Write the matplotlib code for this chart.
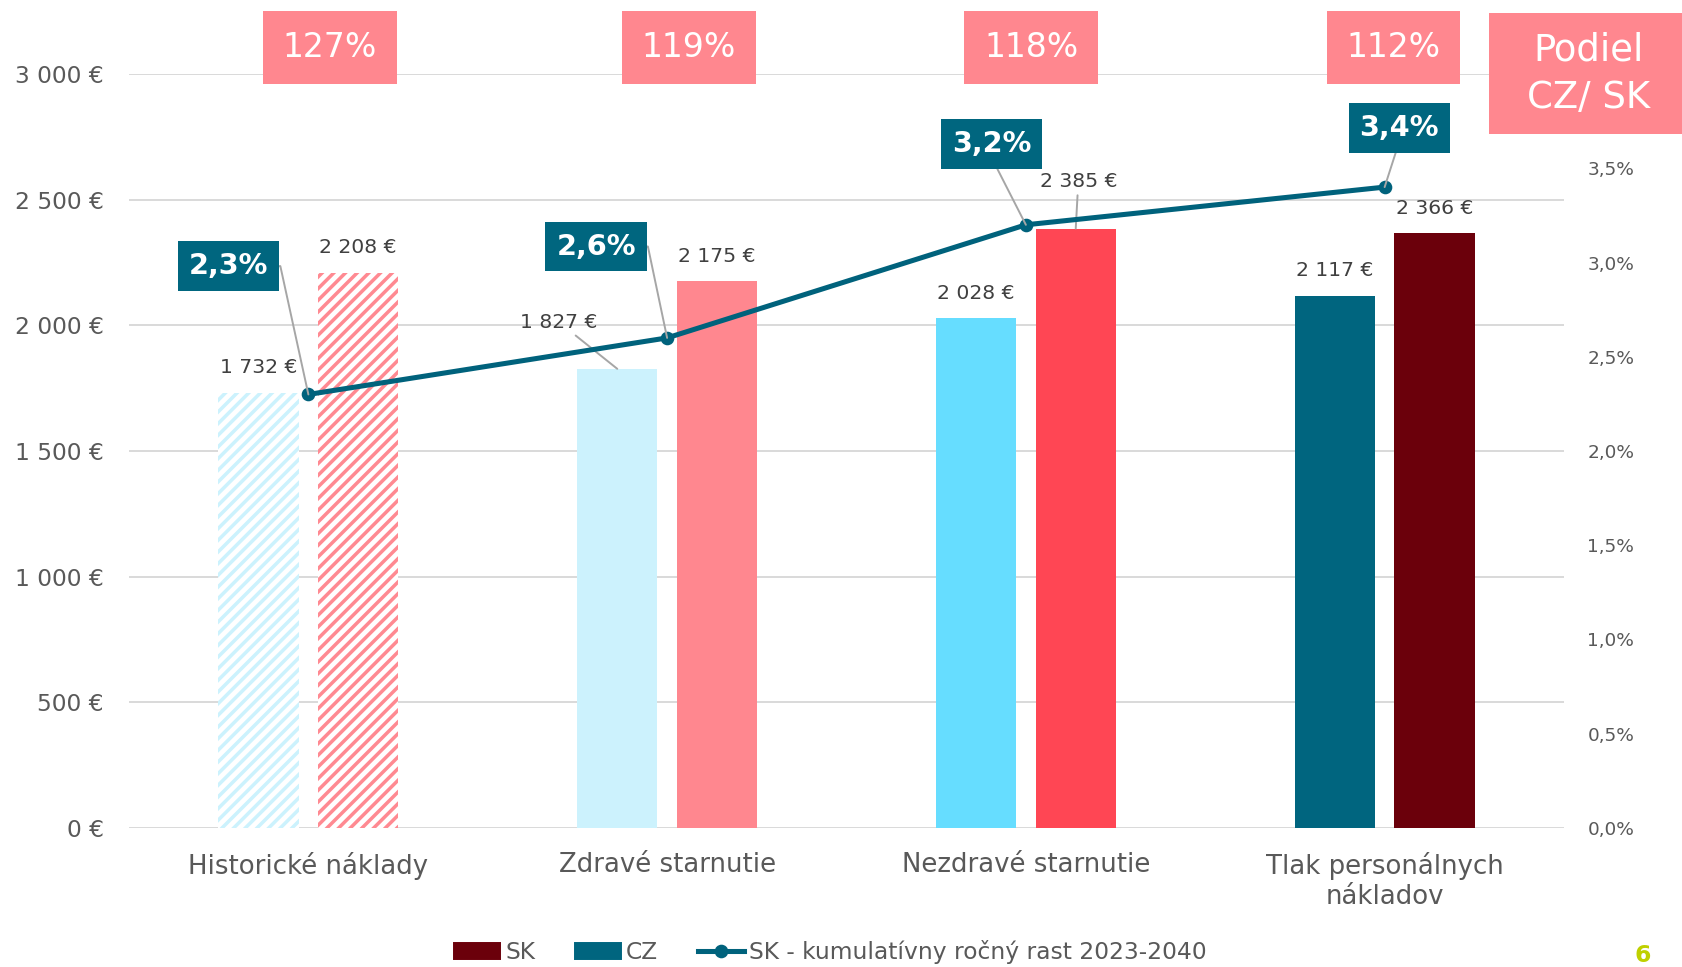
import numpy as np
import matplotlib.pyplot as plt
from matplotlib.lines import Line2D
from matplotlib.patches import Patch, Rectangle

plt.rcParams['font.family'] = ['DejaVu Sans']
plt.rcParams['hatch.linewidth'] = 1.8

categories = ["Historické náklady", "Zdravé starnutie", "Nezdravé starnutie", "Tlak personálnych\nnákladov"]
cz_costs = [1732, 1827, 2028, 2117]
sk_costs = [2208, 2175, 2385, 2366]
sk_growth = [2.3, 2.6, 3.2, 3.4]
cz_colors = ['#CCF2FD', '#CCF2FD', '#66DDFF', '#00657F']
sk_colors = ['#FF8A92', '#FF878F', '#FF4654', '#6B000B']
cost_ticks = [0, 500, 1000, 1500, 2000, 2500, 3000]
growth_ticks = [0.0, 0.5, 1.0, 1.5, 2.0, 2.5, 3.0, 3.5]

teal = '#00667F'
line_teal = '#00627C'
pink = '#FF878F'
grey_text = '#595959'
dark_text = '#404040'
leader = '#A6A6A6'


def eur(v):
    return f"{v:,}".replace(",", " ") + " €"


def pct(v):
    return f"{v:.1f}%".replace(".", ",")


dpi = 140
fig = plt.figure(figsize=(1682 / dpi, 967 / dpi), dpi=dpi)
ax = fig.add_axes([129 / 1682, 1 - 828 / 967, (1564 - 129) / 1682, (828 - 74) / 967])
ax2 = ax.twinx()

x = np.arange(len(categories))
w = 0.224
off = 0.139

cz_bars = ax.bar(x - off, cz_costs, w, color=cz_colors, linewidth=0, zorder=2)
sk_bars = ax.bar(x + off, sk_costs, w, color=sk_colors, linewidth=0, zorder=2)
# historical values are hatched
for b, c in [(cz_bars[0], cz_colors[0]), (sk_bars[0], sk_colors[0])]:
    b.set_facecolor('white')
    b.set_edgecolor(c)
    b.set_linewidth(0)
    b.set_hatch('////')

ax.set_xlim(-0.5, len(categories) - 0.5)
ax.set_ylim(0, 3000)
ax.set_yticks(cost_ticks)
ax.set_yticklabels([eur(v) for v in cost_ticks])
ax.set_xticks(x)
ax.set_xticklabels(categories)
ax.tick_params(axis='y', length=0, pad=13, labelsize=12, labelcolor=grey_text)
ax.tick_params(axis='x', length=0, pad=12.5, labelsize=13.4, labelcolor=grey_text)
ax.grid(axis='y', color='#D9D9D9', lw=1, zorder=0)
ax.set_axisbelow(True)
for s in ax.spines.values():
    s.set_visible(False)

ax2.set_ylim(0, 4.0)
ax2.set_yticks(growth_ticks)
ax2.set_yticklabels([pct(v) for v in growth_ticks])
ax2.tick_params(axis='y', length=0, pad=12, labelsize=9.5, labelcolor=grey_text)
for s in ax2.spines.values():
    s.set_visible(False)

ax2.plot(x, sk_growth, color=line_teal, lw=2.6, marker='o', ms=6, zorder=5)

# value labels above the bars
for i in range(len(categories)):
    if i == 1:
        ax.annotate(eur(cz_costs[i]), (x[i] - off, cz_costs[i]), xytext=(-30, 24), textcoords='offset points',
                    ha='center', va='center', fontsize=10.5, color=dark_text,
                    arrowprops=dict(arrowstyle='-', color=leader, lw=1, shrinkA=0, shrinkB=0))
    else:
        ax.annotate(eur(cz_costs[i]), (x[i] - off, cz_costs[i]), xytext=(0, 13), textcoords='offset points',
                    ha='center', va='center', fontsize=10.5, color=dark_text)
    if i == 2:
        ax.annotate(eur(sk_costs[i]), (x[i] + off, sk_costs[i]), xytext=(1.3, 24), textcoords='offset points',
                    ha='center', va='center', fontsize=10.5, color=dark_text,
                    arrowprops=dict(arrowstyle='-', color=leader, lw=1, shrinkA=0, shrinkB=0))
    else:
        ax.annotate(eur(sk_costs[i]), (x[i] + off, sk_costs[i]), xytext=(0, 13), textcoords='offset points',
                    ha='center', va='center', fontsize=10.5, color=dark_text)

# growth callouts
box_offsets = [(-41, 66), (-36.5, 47), (-17.5, 41.5), (7.5, 30.5)]
for i, g in enumerate(sk_growth):
    if i < 2:
        arrow = dict(arrowstyle='-', color=leader, lw=1, shrinkA=0, shrinkB=0, relpos=(1, 0.5),
                     connectionstyle='arc,angleA=0,armA=12,angleB=0,armB=0,rad=0')
    else:
        arrow = dict(arrowstyle='-', color=leader, lw=1, shrinkA=0, shrinkB=0, relpos=(0.5, 0))
    ax2.annotate(pct(g), (x[i], g), xytext=box_offsets[i], textcoords='offset points',
                 ha='center', va='center', fontsize=14.8, fontweight='bold', color='white',
                 bbox=dict(boxstyle='square,pad=0.38', fc=teal, ec='none'),
                 arrowprops=arrow, zorder=6)

# SK / CZ ratio boxes on top
ratio_shift = [0.06, 0.06, 0.015, 0.025]
for i in range(len(categories)):
    ratio = round(sk_costs[i] / cz_costs[i] * 100)
    ax.text(x[i] + ratio_shift[i], 1.035, f"{ratio}%", transform=ax.get_xaxis_transform(),
            ha='center', va='center', fontsize=17, color='white',
            bbox=dict(boxstyle='square,pad=0.6', fc=pink, ec='none'))

fig.patches.append(Rectangle((1489 / 1682, 1 - 134 / 967), 1 - 1489 / 1682, 121 / 967,
                             transform=fig.transFigure, fc=pink, ec='none', zorder=10))
fig.text(1589 / 1682, 1 - 73.5 / 967, "Podiel\nCZ/ SK", ha='center', va='center', fontsize=19,
         color='white', linespacing=1.35, zorder=11)

handles = [Patch(color=sk_colors[3]), Patch(color=cz_colors[3]),
           Line2D([], [], color=line_teal, lw=2.6, marker='o', ms=6)]
labels = ["SK", "CZ", "SK - kumulatívny ročný rast 2023-2040"]
fig.legend(handles, labels, loc='center', bbox_to_anchor=(0.4936, 0.0155), ncol=3, frameon=False,
           fontsize=12, labelcolor=grey_text, handlelength=2.0, handletextpad=0.2, columnspacing=1.7)

fig.text(1643 / 1682, 0.0, "6", ha='center', va='bottom', fontsize=12, fontweight='bold',
         color='#BFD000')

fig.savefig('out.png', dpi=dpi)
